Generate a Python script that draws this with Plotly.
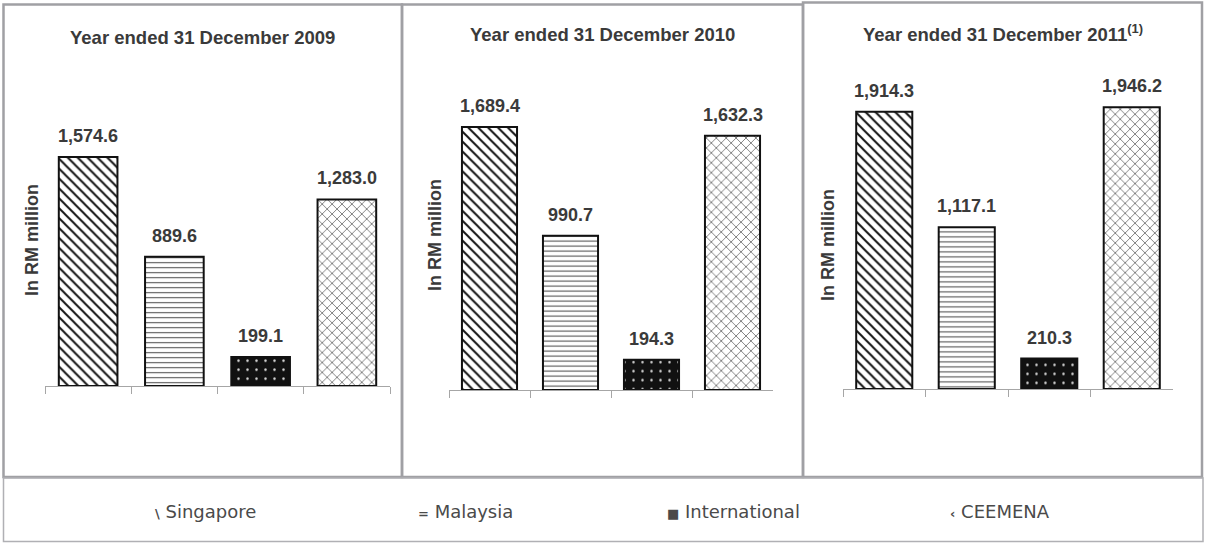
import plotly.graph_objects as go

# ---------------- data ----------------
regions = ["Singapore", "Malaysia", "International", "CEEMENA"]
years = ["2009", "2010", "2011"]
titles = ["Year ended 31 December 2009",
          "Year ended 31 December 2010",
          "Year ended 31 December 2011<sup>(1)</sup>"]
values_2009 = [1574.6, 889.6, 199.1, 1283.0]
values_2010 = [1689.4, 990.7, 194.3, 1632.3]
values_2011 = [1914.3, 1117.1, 210.3, 1946.2]
y_axis_title = "In RM million"
legend_symbols = ["\\", "=", "\u25A0", "\u2039"]

# ---------------- layout helpers ----------------
W, H = 1213, 543
def px_x(p):
    return p / W
def px_y(p):
    return 1 - p / H

# per-panel geometry in pixels of the target picture
panels = [
    dict(xl=45, xr=390, base=386, scale=0.1454, title_x=202, title_y=37, ytitle_x=32, ytitle_y=240,
         box=(3.5, 402, 4.5, 477), values=values_2009),
    dict(xl=449, xr=773, base=390, scale=0.1557, title_x=602, title_y=35, ytitle_x=435, ytitle_y=235,
         box=(402, 803, 4.5, 477), values=values_2010),
    dict(xl=843, xr=1173, base=389, scale=0.1448, title_x=1003, title_y=33, ytitle_x=828, ytitle_y=245,
         box=(803, 1202, 2.5, 477), values=values_2011),
]
YMAX = 2000

styles = {
    "Singapore": dict(shape="\\", fg="#111111", bg="#ffffff", size=7, sol=0.28),
    "Malaysia": dict(shape="-", fg="#555555", bg="#ffffff", size=5, sol=0.22),
    "International": dict(shape=".", fg="#dddddd", bg="#111111", size=9, sol=0.06),
    "CEEMENA": dict(shape="x", fg="#444444", bg="#ffffff", size=7, sol=0.18),
}

fig = go.Figure()
annotations = []
shapes = []
layout_axes = {}

TXT = "#3a3a3a"
FONT = "Liberation Sans, Arial, sans-serif"

for i, p in enumerate(panels):
    n = "" if i == 0 else str(i + 1)
    xa, ya = "x" + n, "y" + n
    for r, v in zip(regions, p["values"]):
        s = styles[r]
        fig.add_trace(go.Bar(
            x=[r], y=[v], xaxis=xa, yaxis=ya, name=r,
            marker=dict(
                color=s["bg"],
                line=dict(color="#111111", width=2),
                pattern=dict(shape=s["shape"], fgcolor=s["fg"], bgcolor=s["bg"],
                             size=s["size"], solidity=s["sol"], fillmode="replace"),
            ),
            showlegend=False, hoverinfo="x+y",
        ))
        annotations.append(dict(
            x=r, y=v, xref=xa, yref=ya, yanchor="bottom", yshift=9,
            text="<b>{:,.1f}</b>".format(v), showarrow=False,
            font=dict(family=FONT, size=18, color=TXT),
        ))
    top_px = p["base"] - YMAX * p["scale"]
    layout_axes["xaxis" + n] = dict(
        domain=[px_x(p["xl"]), px_x(p["xr"])], anchor=ya,
        categoryorder="array", categoryarray=regions,
        showline=True, linecolor="#a6a6a6", linewidth=1,
        ticks="outside", tickson="boundaries", ticklen=7, tickcolor="#a6a6a6",
        showticklabels=False, showgrid=False, zeroline=False, fixedrange=True,
    )
    layout_axes["yaxis" + n] = dict(
        domain=[px_y(p["base"]), px_y(top_px)], anchor=xa, range=[0, YMAX],
        visible=False, showgrid=False, zeroline=False, fixedrange=True,
    )
    annotations.append(dict(
        x=px_x(p["title_x"]), y=px_y(p["title_y"]), xref="paper", yref="paper",
        xanchor="center", yanchor="middle", showarrow=False,
        text="<b>" + titles[i] + "</b>",
        font=dict(family=FONT, size=18.5, color=TXT),
    ))
    annotations.append(dict(
        x=px_x(p["ytitle_x"]), y=px_y(p["ytitle_y"]), xref="paper", yref="paper",
        xanchor="center", yanchor="middle", showarrow=False, textangle=-90,
        text="<b>" + y_axis_title + "</b>",
        font=dict(family=FONT, size=18, color=TXT),
    ))
    bx0, bx1, by0, by1 = p["box"]
    shapes.append(dict(type="rect", xref="paper", yref="paper",
                       x0=px_x(bx0), x1=px_x(bx1), y0=px_y(by1), y1=px_y(by0),
                       line=dict(color="#a0a0a4", width=2.5), layer="below"))

# legend box
shapes.append(dict(type="rect", xref="paper", yref="paper",
                   x0=px_x(3.5), x1=px_x(1203), y0=px_y(541.5), y1=px_y(478),
                   line=dict(color="#b0b0b4", width=1.5), layer="below"))

legend_x = [153, 416, 665, 948]
for sym, name, lx in zip(legend_symbols, regions, legend_x):
    sym_txt = "<span style='font-size:13px'><b>" + sym + "</b></span>"
    annotations.append(dict(
        x=px_x(lx), y=px_y(511), xref="paper", yref="paper",
        xanchor="left", yanchor="middle", showarrow=False,
        text=sym_txt + " " + name,
        font=dict(family="DejaVu Sans, sans-serif", size=18, color="#4a4a4a"),
    ))

fig.update_layout(
    width=W, height=H,
    margin=dict(l=0, r=0, t=0, b=0),
    paper_bgcolor="white", plot_bgcolor="white",
    barmode="overlay", bargap=0.32,
    annotations=annotations, shapes=shapes,
    **layout_axes,
)

fig.write_html(
    "out.html",
    config={"displayModeBar": False},
    post_script=("document.body.style.margin='0';"
                 "document.body.style.overflow='hidden';"
                 "document.documentElement.style.overflow='hidden';"),
)
